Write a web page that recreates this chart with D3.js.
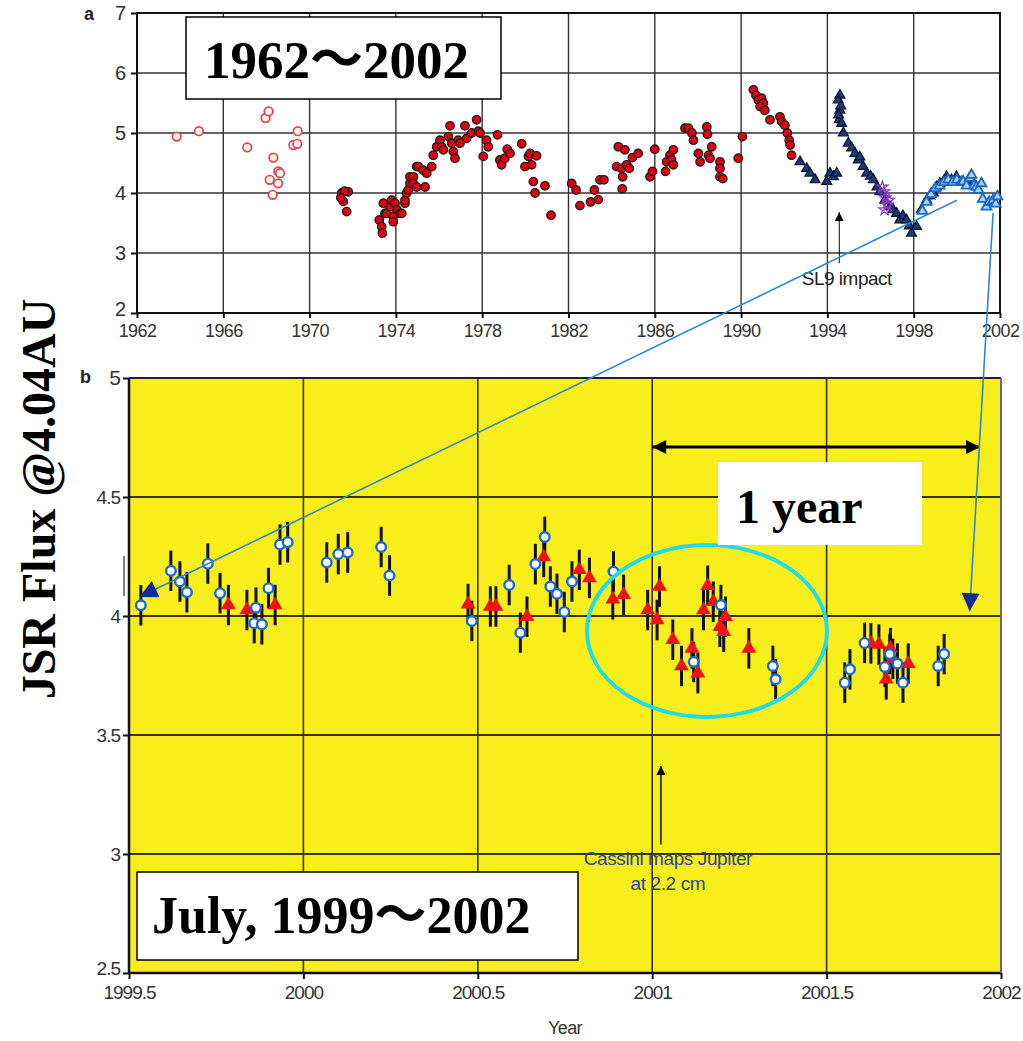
<!DOCTYPE html>
<html>
<head>
<meta charset="utf-8">
<script src="https://cdn.jsdelivr.net/npm/d3@7"></script>
<style>
body { margin:0; background:#fff; }
svg text { font-family: "Liberation Sans", Arial, sans-serif; }
</style>
</head>
<body>
<svg id="graph"></svg>
<script>
//----------data: top panel (a) 1962-2002----------
var topYears = [1962,1966,1970,1974,1978,1982,1986,1990,1994,1998,2002];
var topValues = [2,3,4,5,6,7];

var openRed = [[1963.84,4.94],[1964.87,5.03],[1967.11,4.76],[1967.96,5.25],[1968.1,5.36],[1968.32,4.59],
  [1968.15,4.22],[1968.29,3.97],[1968.55,4.36],[1968.63,4.33],[1968.54,4.16],[1969.25,4.8],[1969.43,4.82],[1969.45,5.03]];

var filledRed = [[1971.49,4.0],[1971.56,3.86],[1971.72,3.69],[1971.79,4.02],[1971.62,4.03],[1971.45,3.92],
  [1973.23,3.55],[1973.34,3.44],[1973.37,3.33],[1973.42,3.83],[1973.49,3.66],[1973.57,3.66],[1973.73,3.77],
  [1973.8,3.88],[1973.88,3.61],[1973.88,3.52],[1973.96,3.83],[1974.05,3.72],[1974.19,3.66],[1974.27,3.66],
  [1974.42,3.83],[1974.42,3.88],[1974.5,4.0],[1974.57,4.05],[1974.65,4.16],[1974.65,4.27],[1974.81,4.27],
  [1974.81,4.16],[1974.96,4.1],[1974.96,4.44],[1975.04,4.44],[1975.27,4.38],[1975.35,4.1],[1975.43,4.33],
  [1975.66,4.44],[1975.73,4.63],[1975.89,4.77],[1976.04,4.88],[1976.12,4.77],[1976.2,4.72],[1976.51,5.12],
  [1976.43,4.94],[1976.59,4.83],[1976.66,4.69],[1976.74,4.58],[1976.89,4.88],[1976.97,4.83],[1977.2,5.12],
  [1977.28,4.91],[1977.51,5.0],[1977.74,5.22],[1977.82,5.03],[1977.9,5.0],[1978.05,4.61],[1978.2,4.88],
  [1978.28,4.77],[1978.71,4.97],[1978.82,4.55],[1978.9,4.47],[1979.05,4.58],[1979.16,4.73],[1979.29,4.66],
  [1979.83,4.82],[1979.98,4.44],[1980.14,4.61],[1980.22,4.66],[1980.29,4.47],[1980.52,4.62],[1980.37,4.19],
  [1980.45,4.0],[1980.91,4.12],[1981.19,3.63],[1982.15,4.16],[1982.35,4.05],[1982.53,3.79],[1983.02,3.85],
  [1983.2,4.05],[1983.38,3.89],[1983.46,4.22],[1983.64,4.22],[1984.23,4.44],[1984.31,4.77],[1984.46,4.41],
  [1984.51,4.27],[1984.49,4.07],[1984.61,4.72],[1984.7,4.47],[1984.82,4.41],[1984.96,4.59],[1985.23,4.66],
  [1985.78,4.27],[1985.89,4.36],[1986.0,4.73],[1986.5,4.36],[1986.55,4.52],[1986.7,4.63],[1986.86,4.72],
  [1986.78,4.55],[1986.86,4.47],[1987.4,5.08],[1987.56,5.08],[1987.72,5.0],[1987.79,4.88],[1988.02,4.66],
  [1988.1,4.52],[1988.41,5.1],[1988.44,4.98],[1988.49,4.63],[1988.64,4.77],[1988.56,4.58],[1989.02,4.52],
  [1989.02,4.41],[1989.02,4.27],[1989.15,4.24],[1989.87,4.58],[1990.06,4.94],[1990.57,5.72],[1990.69,5.63],
  [1990.8,5.55],[1990.95,5.58],[1991.03,5.5],[1990.88,5.44],[1991.1,5.38],[1991.34,5.22],[1991.8,5.27],
  [1991.88,5.19],[1992.03,5.13],[1992.14,5.0],[1992.23,4.88],[1992.27,4.8],[1992.34,4.63]];

var navyTri = [[1992.73,4.52],[1993.04,4.41],[1993.19,4.33],[1993.43,4.22],[1993.97,4.19],[1994.12,4.33],
  [1994.28,4.27],[1994.43,4.33],[1994.58,5.63],[1994.5,5.55],[1994.58,5.38],[1994.55,5.22],[1994.62,5.45],
  [1994.52,5.3],[1994.66,5.16],[1994.74,5.0],[1994.97,4.83],[1995.13,4.75],[1995.28,4.66],[1995.43,4.55],
  [1995.5,4.6],[1995.66,4.44],[1995.82,4.33],[1996.0,4.28],[1996.13,4.22],[1996.3,4.1],[1996.43,4.02],
  [1996.66,3.88],[1996.9,3.77],[1997.05,3.72],[1997.21,3.66],[1997.36,3.55],[1997.5,3.62],[1997.67,3.55],
  [1997.8,3.45],[1997.9,3.33],[1998.13,3.44],[1998.36,3.72],[1998.6,3.88],[1998.75,3.95],[1998.91,4.0],
  [1999.05,4.1],[1999.21,4.16],[1999.4,4.2],[1999.52,4.27],[1999.75,4.22],[1999.98,4.27],[2000.5,4.2],
  [2000.75,4.18]];

var purpleStar = [[1996.55,4.1],[1996.62,4.02],[1996.7,3.92],[1996.78,3.8],[1996.65,3.72],[1996.85,3.88]];

var blueTri = [[1998.4,3.7],[1998.6,3.85],[1998.8,3.98],[1999.0,4.08],[1999.2,4.12],[1999.4,4.18],
  [1999.6,4.22],[1999.8,4.18],[2000.0,4.22],[2000.2,4.18],[2000.29,4.19],[2000.45,4.12],[2000.6,4.25],
  [2000.68,4.3],[2000.8,4.12],[2000.91,4.1],[2001.0,4.05],[2001.14,4.16],[2001.2,3.9],[2001.37,3.77],
  [2001.5,3.85],[2001.68,3.88],[2001.8,3.82],[2001.88,3.94]];

//----------data: bottom panel (b) July 1999-2002----------
var botYears = [1999.5,2000,2000.5,2001,2001.5,2002];
var botValues = [2.5,3,3.5,4,4.5,5];
var errBar = 0.085;

var blueCircles = [[1999.534,4.045],[1999.62,4.19],[1999.646,4.145],[1999.666,4.10],[1999.726,4.22],
  [1999.761,4.096],[1999.864,4.035],[1999.859,3.97],[1999.881,3.965],[1999.90,4.117],[1999.933,4.30],
  [1999.955,4.31],[2000.067,4.225],[2000.10,4.26],[2000.127,4.267],[2000.223,4.29],[2000.247,4.17],
  [2000.483,3.979],[2000.59,4.13],[2000.622,3.93],[2000.665,4.218],[2000.692,4.332],[2000.708,4.124],
  [2000.727,4.093],[2000.748,4.017],[2000.77,4.145],[2000.889,4.187],[2001.119,3.807],[2001.197,4.046],
  [2001.346,3.79],[2001.354,3.734],[2001.552,3.72],[2001.567,3.776],[2001.609,3.887],[2001.681,3.84],
  [2001.667,3.786],[2001.703,3.80],[2001.719,3.72],[2001.82,3.79],[2001.837,3.84]];

var redTriangles = [[1999.785,4.046],[1999.838,4.025],[1999.919,4.046],[2000.472,4.05],[2000.536,4.04],
  [2000.552,4.04],[2000.641,3.997],[2000.689,4.248],[2000.791,4.194],[2000.82,4.16],[2000.887,4.07],
  [2000.918,4.089],[2000.987,4.025],[2001.014,3.983],[2001.021,4.124],[2001.059,3.90],[2001.084,3.79],
  [2001.114,3.864],[2001.131,3.76],[2001.159,4.127],[2001.147,4.025],[2001.175,4.06],[2001.194,3.955],
  [2001.205,3.934],[2001.21,3.997],[2001.277,3.864],[2001.627,3.885],[2001.65,3.88],[2001.69,3.82],
  [2001.671,3.734],[2001.734,3.80],[2001.683,3.865]];

//----------setup----------
var screen = {width:1023, height:1041};
var svg = d3.select("#graph").attr("width", screen.width).attr("height", screen.height);

var xTop = d3.scaleLinear().domain([1962,2002]).range([137,1000]);
var yTop = d3.scaleLinear().domain([2,7]).range([313,13]);
var xBot = d3.scaleLinear().domain([1999.5,2002]).range([129,1001]);
var yBot = d3.scaleLinear().domain([2.5,5]).range([973,378]);

var defs = svg.append("defs");
var marker = function(id, color, w, h) {
  defs.append("marker").attr("id", id)
    .attr("viewBox", "0 0 10 10").attr("refX", 10).attr("refY", 5)
    .attr("markerWidth", w).attr("markerHeight", h)
    .attr("markerUnits", "userSpaceOnUse")
    .attr("orient", "auto-start-reverse")
    .append("path").attr("d", "M0,0L10,5L0,10Z").attr("fill", color);
};
marker("navyHead", "#0f2a9c", 24, 18);
marker("blackHead", "#000", 16, 14);
marker("thinHead", "#000", 9, 9);

//----------panel a----------
var drawTop = function() {
  var g = svg.append("g");
  // gridlines
  g.selectAll(".vg").data(topYears).enter().append("line")
    .attr("x1", function(d){ return xTop(d); }).attr("x2", function(d){ return xTop(d); })
    .attr("y1", yTop(7)).attr("y2", yTop(2)).attr("stroke", "#333").attr("stroke-width", 1.4);
  g.selectAll(".hg").data(topValues).enter().append("line")
    .attr("y1", function(d){ return yTop(d); }).attr("y2", function(d){ return yTop(d); })
    .attr("x1", xTop(1962)).attr("x2", xTop(2002)).attr("stroke", "#333").attr("stroke-width", 1.4);
  g.append("rect").attr("x", xTop(1962)).attr("y", yTop(7))
    .attr("width", xTop(2002) - xTop(1962)).attr("height", yTop(2) - yTop(7))
    .attr("fill", "none").attr("stroke", "#111").attr("stroke-width", 2);

  var xAxis = d3.axisBottom(xTop).tickValues(topYears).tickFormat(d3.format("d")).tickSize(5);
  var yAxis = d3.axisLeft(yTop).tickValues(topValues).tickFormat(d3.format("d")).tickSize(6);
  var ax = g.append("g").attr("transform", "translate(0," + yTop(2) + ")").call(xAxis);
  var ay = g.append("g").attr("transform", "translate(" + xTop(1962) + ",0)").call(yAxis);
  [ax, ay].forEach(function(a) {
    a.select(".domain").remove();
    a.selectAll("line").attr("stroke", "#111").attr("stroke-width", 2);
    a.selectAll("text").attr("font-size", 18).attr("fill", "#333");
  });
  ax.selectAll("text").attr("dy", "0.9em").attr("letter-spacing", "-0.6px");
  ay.selectAll("text").attr("font-size", 20).attr("dx", "-0.1em");
  ay.select(".tick text").attr("dy", "0.1em");

  // points
  g.selectAll(".or").data(openRed).enter().append("circle")
    .attr("cx", function(d){ return xTop(d[0]); }).attr("cy", function(d){ return yTop(d[1]); })
    .attr("r", 4.3).attr("fill", "#fff8ee").attr("stroke", "#e8404a").attr("stroke-width", 1.7);
  g.selectAll(".fr").data(filledRed).enter().append("circle")
    .attr("cx", function(d){ return xTop(d[0]); }).attr("cy", function(d){ return yTop(d[1]); })
    .attr("r", 4.2).attr("fill", "#e00010").attr("stroke", "#2a1a1a").attr("stroke-width", 1.4);
  var tri = d3.symbol().type(d3.symbolTriangle).size(42);
  g.selectAll(".nt").data(navyTri).enter().append("path")
    .attr("d", tri)
    .attr("transform", function(d){ return "translate(" + xTop(d[0]) + "," + yTop(d[1]) + ")"; })
    .attr("fill", "#1d3a78").attr("stroke", "#0a1530").attr("stroke-width", 1.3);
  var star = d3.symbol().type(d3.symbolStar).size(40);
  g.selectAll(".ps").data(purpleStar).enter().append("path")
    .attr("d", star)
    .attr("transform", function(d){ return "translate(" + xTop(d[0]) + "," + yTop(d[1]) + ")"; })
    .attr("fill", "none").attr("stroke", "#8a3ac8").attr("stroke-width", 1.2);
  g.selectAll(".bt").data(blueTri).enter().append("path")
    .attr("d", tri)
    .attr("transform", function(d){ return "translate(" + xTop(d[0]) + "," + yTop(d[1]) + ")"; })
    .attr("fill", "#a8d4f4").attr("stroke", "#1a68c8").attr("stroke-width", 1.8);

  // SL9 arrow
  g.append("line").attr("x1", xTop(1994.55)).attr("x2", xTop(1994.55))
    .attr("y1", yTop(2.83)).attr("y2", yTop(3.68))
    .attr("stroke", "#000").attr("stroke-width", 1).attr("marker-end", "url(#thinHead)");
  g.append("text").attr("x", xTop(1994.9)).attr("y", yTop(2.47)).attr("text-anchor", "middle")
    .attr("font-size", 19).attr("fill", "#222").attr("letter-spacing", "-0.5px").text("SL9 impact");

  svg.append("text").attr("x", 84).attr("y", 20).attr("font-size", 18).attr("font-weight", "bold")
    .attr("fill", "#222").text("a");
};

//----------panel b----------
var drawBottom = function() {
  var g = svg.append("g");
  g.append("rect").attr("x", xBot(1999.5)).attr("y", yBot(5))
    .attr("width", xBot(2002) - xBot(1999.5)).attr("height", yBot(2.5) - yBot(5))
    .attr("fill", "#f8ee1c");
  g.selectAll(".vg").data(botYears).enter().append("line")
    .attr("x1", function(d){ return xBot(d); }).attr("x2", function(d){ return xBot(d); })
    .attr("y1", yBot(5)).attr("y2", yBot(2.5)).attr("stroke", "#3a3208").attr("stroke-width", 1.6);
  g.selectAll(".hg").data(botValues).enter().append("line")
    .attr("y1", function(d){ return yBot(d); }).attr("y2", function(d){ return yBot(d); })
    .attr("x1", xBot(1999.5)).attr("x2", xBot(2002)).attr("stroke", "#3a3208").attr("stroke-width", 1.8);
  g.append("line").attr("x1", xBot(1999.5)).attr("x2", xBot(1999.5))
    .attr("y1", yBot(5)).attr("y2", yBot(2.5)).attr("stroke", "#111").attr("stroke-width", 2.5);
  g.append("line").attr("x1", xBot(1999.5)).attr("x2", xBot(2002))
    .attr("y1", yBot(2.5)).attr("y2", yBot(2.5)).attr("stroke", "#111").attr("stroke-width", 2.5);
  g.append("line").attr("x1", xBot(1999.5)).attr("x2", xBot(2002))
    .attr("y1", yBot(5)).attr("y2", yBot(5)).attr("stroke", "#222").attr("stroke-width", 2);
  g.append("line").attr("x1", xBot(2002)).attr("x2", xBot(2002))
    .attr("y1", yBot(5)).attr("y2", yBot(2.5)).attr("stroke", "#6a6488").attr("stroke-width", 2);

  var xAxis = d3.axisBottom(xBot).tickValues(botYears).tickFormat(function(d){ return String(d); }).tickSize(6);
  var yAxis = d3.axisLeft(yBot).tickValues(botValues).tickFormat(function(d){ return String(d); }).tickSize(6);
  var ax = g.append("g").attr("transform", "translate(0," + yBot(2.5) + ")").call(xAxis);
  var ay = g.append("g").attr("transform", "translate(" + xBot(1999.5) + ",0)").call(yAxis);
  [ax, ay].forEach(function(a) {
    a.select(".domain").remove();
    a.selectAll("line").attr("stroke", "#111").attr("stroke-width", 2);
    a.selectAll("text").attr("font-size", 19).attr("fill", "#333").attr("letter-spacing", "-1px");
  });
  ax.selectAll("text").attr("dy", "0.9em");
  ay.select(".tick text").attr("dy", "0.1em");
  ay.select(".tick:last-of-type text").attr("font-size", 21);

  g.append("text").attr("x", (xBot(1999.5) + xBot(2002)) / 2).attr("y", 1034)
    .attr("text-anchor", "middle").attr("font-size", 18).attr("fill", "#333")
    .attr("letter-spacing", "-0.6px").text("Year");
  g.append("line").attr("x1", 124).attr("x2", 124).attr("y1", 556).attr("y2", 596)
    .attr("stroke", "#555").attr("stroke-width", 1.5);

  // error bars
  var allPts = blueCircles.concat(redTriangles);
  g.selectAll(".eb").data(allPts).enter().append("line")
    .attr("x1", function(d){ return xBot(d[0]); }).attr("x2", function(d){ return xBot(d[0]); })
    .attr("y1", function(d){ return yBot(d[1] + errBar); }).attr("y2", function(d){ return yBot(d[1] - errBar); })
    .attr("stroke", "#111").attr("stroke-width", 3);
  var tri = d3.symbol().type(d3.symbolTriangle).size(95);
  g.selectAll(".rt").data(redTriangles).enter().append("path")
    .attr("d", tri)
    .attr("transform", function(d){ return "translate(" + xBot(d[0]) + "," + yBot(d[1]) + ")"; })
    .attr("fill", "#ee1212");
  g.selectAll(".bc").data(blueCircles).enter().append("circle")
    .attr("cx", function(d){ return xBot(d[0]); }).attr("cy", function(d){ return yBot(d[1]); })
    .attr("r", 4.8).attr("fill", "#fff").attr("stroke", "#1a6ad4").attr("stroke-width", 2.4);

  // Cassini arrow
  g.append("line").attr("x1", xBot(2001.025)).attr("x2", xBot(2001.025))
    .attr("y1", yBot(3.04)).attr("y2", yBot(3.37))
    .attr("stroke", "#000").attr("stroke-width", 1.4).attr("marker-end", "url(#thinHead)");
  g.append("text").attr("x", xBot(2001.045)).attr("y", yBot(2.955)).attr("text-anchor", "middle")
    .attr("font-size", 19).attr("fill", "#2a4a90").attr("letter-spacing", "-0.4px").text("Cassini maps Jupiter");
  g.append("text").attr("x", xBot(2001.045)).attr("y", yBot(2.85)).attr("text-anchor", "middle")
    .attr("font-size", 19).attr("fill", "#2a4a90").attr("letter-spacing", "-0.4px").text("at 2.2 cm");

  // ellipse around 2001
  g.append("ellipse").attr("cx", xBot(2001.157)).attr("cy", yBot(3.937))
    .attr("rx", xBot(2001.157 + 0.344) - xBot(2001.157)).attr("ry", yBot(3.937) - yBot(3.937 + 0.361))
    .attr("fill", "none").attr("stroke", "#20dcea").attr("stroke-width", 4);

  // 1 year double arrow
  g.append("line").attr("x1", xBot(2001)).attr("x2", xBot(1999.5 + 2.44))
    .attr("y1", yBot(4.71)).attr("y2", yBot(4.71))
    .attr("stroke", "#000").attr("stroke-width", 3)
    .attr("marker-start", "url(#blackHead)").attr("marker-end", "url(#blackHead)");

  svg.append("text").attr("x", 80).attr("y", 383).attr("font-size", 18).attr("font-weight", "bold")
    .attr("fill", "#222").text("b");
};

//----------blue connector lines----------
var drawLinks = function() {
  svg.append("line").attr("x1", xTop(2000.0)).attr("y1", yTop(3.88))
    .attr("x2", xBot(1999.53)).attr("y2", yBot(4.08))
    .attr("stroke", "#2a8ad0").attr("stroke-width", 1.6).attr("marker-end", "url(#navyHead)");
  svg.append("line").attr("x1", xTop(2001.68)).attr("y1", yTop(3.67))
    .attr("x2", xBot(2001.91)).attr("y2", yBot(4.02))
    .attr("stroke", "#2a8ad0").attr("stroke-width", 1.6).attr("marker-end", "url(#navyHead)");
};

//----------text boxes----------
var drawBoxes = function() {
  var box = function(x, y, w, h, label, tx, ty, size) {
    svg.append("rect").attr("x", x).attr("y", y).attr("width", w).attr("height", h)
      .attr("fill", "#fff").attr("stroke", "#000").attr("stroke-width", 1.5);
    svg.append("text").attr("x", tx).attr("y", ty)
      .style("font-family", "'Liberation Serif', 'Noto Sans CJK JP', serif")
      .attr("font-weight", "bold").attr("font-size", size).attr("fill", "#000").text(label);
  };
  box(186, 17, 315, 82, "1962～2002", 204, 78, 53);
  svg.append("rect").attr("x", 718).attr("y", 462).attr("width", 204).attr("height", 83).attr("fill", "#fff");
  svg.append("text").attr("x", 736).attr("y", 523)
    .style("font-family", "'Liberation Serif', serif").attr("font-weight", "bold")
    .attr("font-size", 48).text("1 year");
  box(137, 872, 441, 88, "July, 1999～2002", 152, 933, 52);

  svg.append("text").attr("transform", "translate(55,499) rotate(-90)")
    .attr("text-anchor", "middle")
    .style("font-family", "'Liberation Serif', serif").attr("font-weight", "bold")
    .attr("font-size", 48).attr("fill", "#000").text("JSR Flux @4.04AU");
};

drawBottom();
drawTop();
drawLinks();
drawBoxes();
</script>
</body>
</html>
